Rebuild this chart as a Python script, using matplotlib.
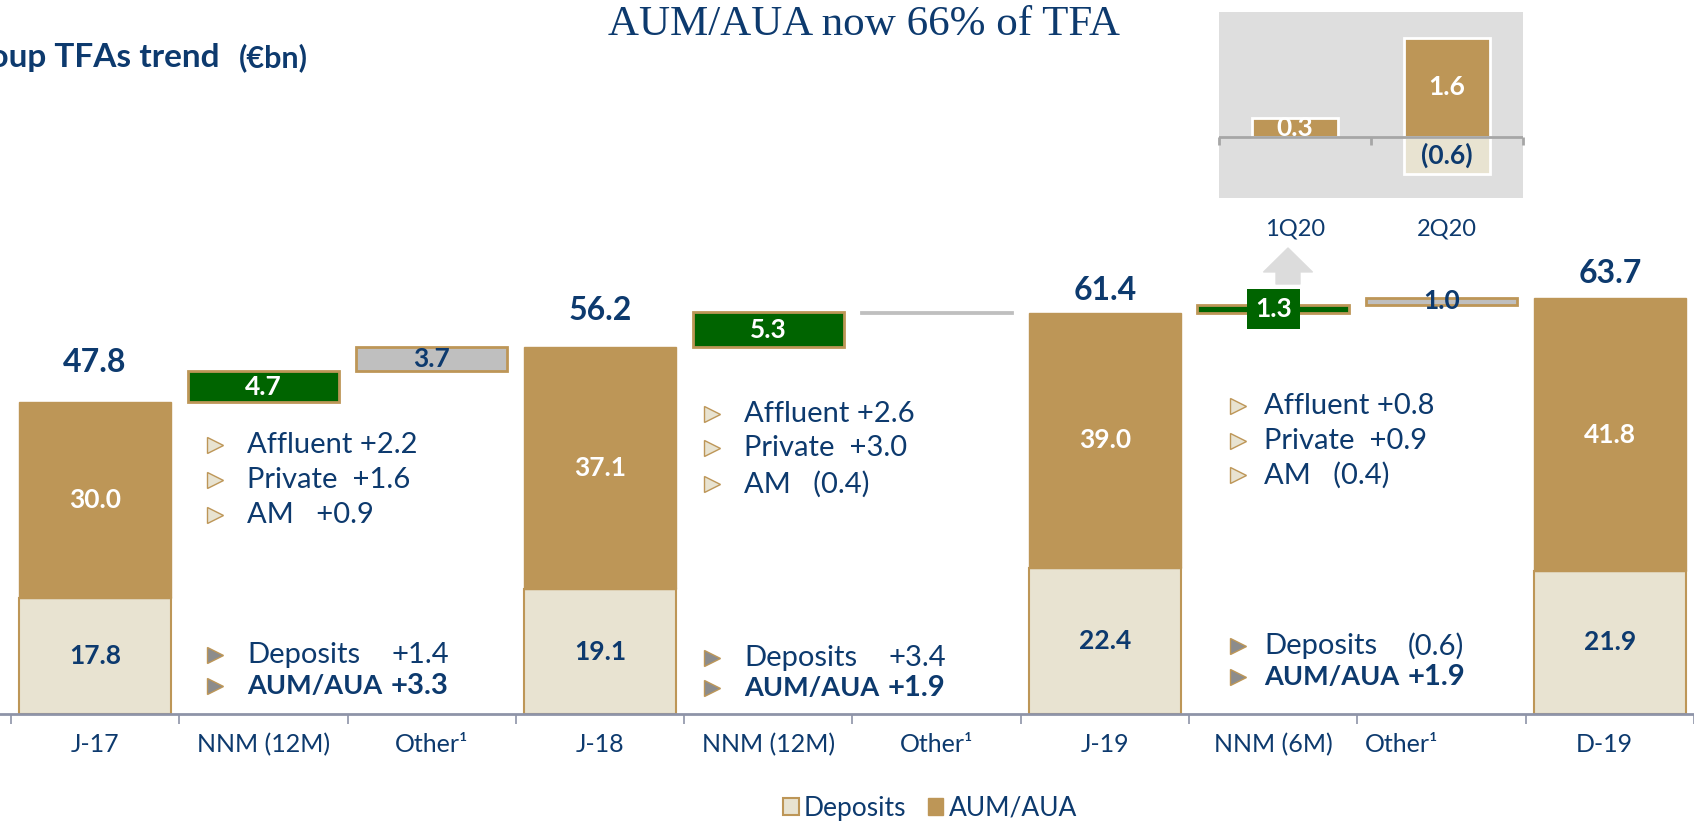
import numpy as np
import matplotlib.pyplot as plt
import matplotlib.transforms as mtransforms
from matplotlib.patches import Patch
from matplotlib.lines import Line2D

plt.rcParams['font.family'] = ['Lato', 'DejaVu Sans']

# data
categories = ['J-17', 'NNM (12M)', 'Other¹', 'J-18', 'NNM (12M)', 'Other¹',
              'J-19', 'NNM (6M)', 'Other¹', 'D-19']
totals = [47.8, 56.2, 61.4, 63.7]
deposits = [17.8, 19.1, 22.4, 21.9]
aum = [30.0, 37.1, 39.0, 41.8]
nnm = [4.7, 5.3, 1.3]
other = [3.7, -0.1, 1.0]
split_lines = [['Affluent +2.2', 'Private  +1.6', 'AM   +0.9'],
               ['Affluent +2.6', 'Private  +3.0', 'AM   (0.4)'],
               ['Affluent +0.8', 'Private  +0.9', 'AM   (0.4)']]
dep_change = ['+1.4', '+3.4', '(0.6)']
aum_change = ['+3.3', '+1.9', '+1.9']
inset_cats = ['1Q20', '2Q20']
inset_aum = [0.3, 1.6]
inset_dep = [0.0, -0.6]

GOLD = '#BD9657'
BEIGE = '#E8E3D1'
GREEN = '#006400'
GREY = '#BFBFBF'
NAVY = '#0D3A6E'
AXIS = '#8E94A8'

W, H = 1694, 822
fig = plt.figure(figsize=(W / 100, H / 100), dpi=100)


def fx(px):
    return px / W


def fy(py):
    return 1 - py / H


def fmt(v):
    return f'{v:.1f}' if v >= 0 else f'({-v:.1f})'


# main waterfall, 6.53 px per unit, baseline at y=714px
ax = fig.add_axes([0, 108 / H, 1, 714 / H])
ax.patch.set_alpha(0)
ax.set_xlim(-0.565, 9.4)
ax.set_ylim(0, 714 / 6.53)
for s in ['top', 'left', 'right']:
    ax.spines[s].set_visible(False)
ax.spines['bottom'].set_color(AXIS)
ax.spines['bottom'].set_linewidth(2)
ax.set_yticks([])
ax.set_xticks(np.arange(-0.5, 10, 1))
ax.tick_params(axis='x', length=7, width=1.2, color=AXIS, labelbottom=False)

tx = [0, 3, 6, 9]
ax.bar(tx, deposits, 0.9, color=BEIGE, edgecolor=GOLD, lw=1.5, zorder=2)
ax.bar(tx, aum, 0.9, bottom=deposits, color=GOLD, edgecolor=GOLD, lw=1, zorder=2)
total_off = [39, 37, 23, 25]
for x, d, a, t, off in zip(tx, deposits, aum, totals, total_off):
    ax.text(x, d / 2, f'{d:.1f}', ha='center', va='center', color=NAVY,
            fontsize=19, fontweight='bold', zorder=4)
    ax.text(x, d + a / 2, f'{a:.1f}', ha='center', va='center', color='white',
            fontsize=19, fontweight='bold', zorder=4)
    ax.annotate(f'{t:.1f}', (x, t), xytext=(0, off), textcoords='offset pixels',
                ha='center', va='center', color=NAVY, fontsize=23, fontweight='bold')

nx = [1, 4, 7]
ox = [2, 5, 8]
ax.bar(nx, nnm, 0.9, bottom=totals[:3], color=GREEN, edgecolor=GOLD, lw=2, zorder=2)
for x, b, v in zip(nx, totals[:3], nnm):
    box = None
    if abs(v) * 6.53 < 20:
        box = dict(boxstyle='square,pad=0.3', fc=GREEN, ec='none')
    ax.text(x, b + v / 2, fmt(v), ha='center', va='center', color='white',
            fontsize=19, fontweight='bold', bbox=box, zorder=4)

obase = [t + n for t, n in zip(totals[:3], nnm)]
for x, b, v in zip(ox, obase, other):
    if abs(v) < 0.5:
        ax.bar(x, v, 0.9, bottom=b, color=GREY, edgecolor=GREY, lw=2, zorder=2)
        continue
    ax.bar(x, v, 0.9, bottom=b, color=GREY, edgecolor=GOLD, lw=2, zorder=2)
    ax.text(x, b + v / 2, fmt(v), ha='center', va='center', color=NAVY,
            fontsize=19, fontweight='bold', zorder=4)

# category labels
lab_shift = [0, 0, 0, 0, 0, 0, 0, 0, -0.24, -0.03]
trans = mtransforms.blended_transform_factory(ax.transData, fig.transFigure)
for i, (c, sh) in enumerate(zip(categories, lab_shift)):
    ax.text(i + sh, fy(745), c, transform=trans, ha='center', va='center',
            color=NAVY, fontsize=18, clip_on=False)

# split commentary
tri_x = [215, 712, 1238]
txt_x = [247, 744, 1264]
top_rows = [[445, 480, 515], [414, 448, 484], [406, 441, 475]]
low_rows = [[655, 686], [658, 688], [646, 677]]
for p in range(3):
    for line, yy in zip(split_lines[p], top_rows[p]):
        fig.add_artist(Line2D([fx(tri_x[p])], [fy(yy)], marker='>', ms=11, mfc=BEIGE,
                              mec=GOLD, mew=1, ls='none', transform=fig.transFigure))
        fig.text(fx(txt_x[p]), fy(yy), line, ha='left', va='center', color=NAVY, fontsize=21)
    for yy in low_rows[p]:
        fig.add_artist(Line2D([fx(tri_x[p])], [fy(yy)], marker='>', ms=11, mfc='#8C8C8C',
                              mec=GOLD, mew=1, ls='none', transform=fig.transFigure))
    fig.text(fx(txt_x[p]), fy(low_rows[p][0]), 'Deposits', ha='left', va='center',
             color=NAVY, fontsize=21)
    fig.text(fx(txt_x[p] + 144), fy(low_rows[p][0]), dep_change[p], ha='left',
             va='center', color=NAVY, fontsize=21)
    fig.text(fx(txt_x[p]), fy(low_rows[p][1]), 'AUM/AUA', ha='left', va='center',
             color=NAVY, fontsize=19.5, fontweight='bold')
    fig.text(fx(txt_x[p] + 144), fy(low_rows[p][1]), aum_change[p], ha='left',
             va='center', color=NAVY, fontsize=21, fontweight='bold')

# arrow up to inset
ax.annotate('', xy=(1288, H - 248), xytext=(1288, H - 284), xycoords='figure pixels',
            textcoords='figure pixels',
            arrowprops=dict(arrowstyle='simple,head_width=1.26,head_length=0.62,tail_width=0.62',
                            color='#DCDCDC', shrinkA=0, shrinkB=0, mutation_scale=27.8))

# inset quarterly NNM, 62.1 px per unit
axi = fig.add_axes([fx(1219), fy(198), 304 / W, 186 / H])
axi.set_facecolor('#DEDEDE')
axi.set_xlim(-0.5, 1.5)
axi.set_ylim(-(198 - 137) / 62.1, (137 - 12) / 62.1)
for s in axi.spines.values():
    s.set_visible(False)
axi.set_xticks([])
axi.set_yticks([])
ix = np.arange(len(inset_cats))
axi.bar(ix, inset_aum, 0.56, color=GOLD, edgecolor='white', lw=2, zorder=2)
for x, v in zip(ix, inset_dep):
    if v != 0:
        axi.bar(x, v, 0.56, color=BEIGE, edgecolor='white', lw=2, zorder=2)
        axi.text(x, v / 2, fmt(v), ha='center', va='center', color=NAVY,
                 fontsize=19, fontweight='bold', zorder=5)
for x, v in zip(ix, inset_aum):
    axi.text(x, v / 2, fmt(v), ha='center', va='center', color='white',
             fontsize=19, fontweight='bold', zorder=5)
axi.axhline(0, color='#A6A6A6', lw=2, zorder=3)
axi.vlines([-0.5, 0.5, 1.5], -0.13, 0, color='#A6A6A6', lw=2, zorder=3, clip_on=False)
itrans = mtransforms.blended_transform_factory(axi.transData, fig.transFigure)
for x, c in zip(ix, inset_cats):
    axi.text(x, fy(229), c, transform=itrans, ha='center', va='center',
             color=NAVY, fontsize=17, clip_on=False)

# titles
fig.text(fx(864), fy(35), 'AUM/AUA now 66% of TFA', family='Liberation Serif',
         fontsize=31, color=NAVY, ha='center', va='baseline')
fig.text(fx(219), fy(67), 'Group TFAs trend', ha='right', va='baseline',
         color=NAVY, fontsize=24, fontweight='bold')
fig.text(fx(239), fy(67), '(€bn)', ha='left', va='baseline',
         color=NAVY, fontsize=22, fontweight='bold')

# legend
handles = [Patch(fc=BEIGE, ec=GOLD, lw=1.5, label='Deposits'),
           Patch(fc=GOLD, ec=GOLD, label='AUM/AUA')]
fig.legend(handles=handles, loc='center', bbox_to_anchor=(fx(930), fy(808)), ncol=2,
           frameon=False, fontsize=19, labelcolor=NAVY, handlelength=0.6,
           handleheight=0.6, handletextpad=0.2, columnspacing=0.8)

fig.savefig('out.png', dpi=100)
